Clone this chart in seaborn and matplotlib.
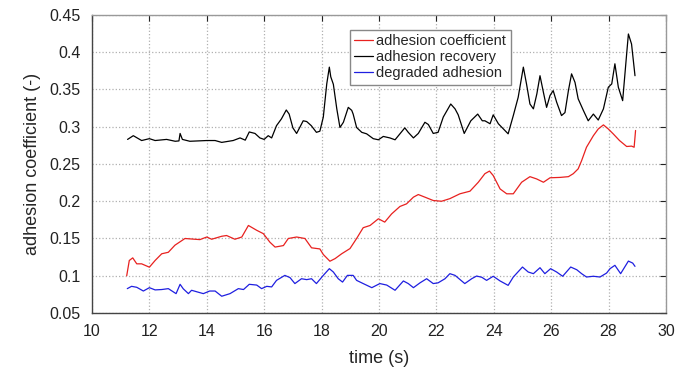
import seaborn as sns
import matplotlib.pyplot as plt
import pandas as pd

# adhesion recovery (black)
rec_t = [11.24, 11.44, 11.73, 12.0, 12.2, 12.6, 12.9, 13.03, 13.07, 13.15, 13.41, 14.0, 14.29,
         14.52, 14.92, 15.16, 15.34, 15.48, 15.68, 15.85, 16.0, 16.14, 16.26, 16.43, 16.6, 16.77,
         16.87, 17.0, 17.13, 17.36, 17.48, 17.64, 17.82, 17.94, 18.06, 18.18, 18.27, 18.32, 18.41,
         18.53, 18.64, 18.76, 18.93, 19.05, 19.1, 19.22, 19.4, 19.57, 19.8, 19.98, 20.15, 20.38,
         20.56, 20.73, 20.9, 21.02, 21.2, 21.37, 21.6, 21.72, 21.89, 22.06, 22.24, 22.5, 22.65,
         22.76, 22.97, 23.2, 23.44, 23.6, 23.69, 23.87, 23.98, 24.16, 24.5, 24.68, 24.85, 25.03,
         25.14, 25.26, 25.38, 25.5, 25.61, 25.73, 25.84, 25.96, 26.07, 26.19, 26.36, 26.48, 26.6,
         26.71, 26.83, 26.94, 27.12, 27.29, 27.47, 27.64, 27.82, 27.99, 28.11, 28.22, 28.34, 28.49,
         28.63, 28.69, 28.8, 28.92]
rec_v = [0.283, 0.288, 0.2815, 0.284, 0.2815, 0.283, 0.2805, 0.281, 0.291, 0.283, 0.2805, 0.2815,
         0.2815, 0.279, 0.2815, 0.285, 0.282, 0.293, 0.291, 0.285, 0.283, 0.288, 0.285, 0.3015,
         0.3105, 0.3225, 0.317, 0.2985, 0.291, 0.308, 0.307, 0.3015, 0.2925, 0.294, 0.313, 0.3575,
         0.38, 0.367, 0.357, 0.324, 0.299, 0.306, 0.326, 0.322, 0.317, 0.299, 0.2925, 0.2905, 0.284,
         0.2825, 0.287, 0.285, 0.2825, 0.2905, 0.2985, 0.2925, 0.285, 0.291, 0.306, 0.303, 0.291,
         0.2925, 0.313, 0.3305, 0.324, 0.316, 0.291, 0.308, 0.317, 0.308, 0.308, 0.304, 0.316, 0.304,
         0.2905, 0.315, 0.3395, 0.38, 0.3575, 0.3305, 0.324, 0.344, 0.3685, 0.346, 0.326, 0.342,
         0.3485, 0.333, 0.315, 0.319, 0.3485, 0.371, 0.3595, 0.3375, 0.322, 0.308, 0.317, 0.309,
         0.324, 0.353, 0.3575, 0.3845, 0.353, 0.335, 0.398, 0.4245, 0.411, 0.3685]

# adhesion coefficient (red)
coef_t = [11.21, 11.3, 11.42, 11.56, 11.73, 12.0, 12.2, 12.43, 12.66, 12.89, 13.24, 13.41, 13.76,
          14.0, 14.17, 14.52, 14.69, 14.98, 15.22, 15.45, 15.74, 15.97, 16.2, 16.38, 16.67, 16.84,
          17.13, 17.42, 17.65, 17.94, 18.06, 18.29, 18.47, 18.7, 18.99, 19.22, 19.45, 19.69, 19.98,
          20.2, 20.44, 20.73, 20.96, 21.2, 21.37, 21.6, 21.89, 22.18, 22.47, 22.82, 23.17, 23.46,
          23.69, 23.85, 23.98, 24.22, 24.45, 24.68, 24.97, 25.26, 25.49, 25.73, 25.96, 26.31, 26.6,
          26.77, 26.94, 27.06, 27.23, 27.47, 27.64, 27.82, 27.99, 28.16, 28.38, 28.63, 28.8, 28.89,
          28.94]
coef_v = [0.1, 0.1205, 0.124, 0.116, 0.116, 0.1115, 0.1205, 0.1295, 0.1315, 0.141, 0.15, 0.1495,
          0.1485, 0.152, 0.149, 0.153, 0.154, 0.149, 0.152, 0.1675, 0.161, 0.1565, 0.145, 0.1385,
          0.1405, 0.15, 0.152, 0.15, 0.1375, 0.136, 0.1285, 0.1195, 0.123, 0.1295, 0.1365, 0.15,
          0.1645, 0.1675, 0.1765, 0.172, 0.183, 0.193, 0.1965, 0.2055, 0.209, 0.2055, 0.201, 0.2,
          0.2035, 0.21, 0.2135, 0.2255, 0.237, 0.2405, 0.2345, 0.2165, 0.21, 0.21, 0.2255, 0.233,
          0.23, 0.2255, 0.2315, 0.232, 0.233, 0.237, 0.2435, 0.2545, 0.2725, 0.288, 0.297, 0.3025,
          0.297, 0.2905, 0.2815, 0.2735, 0.274, 0.2725, 0.295]

# degraded adhesion (blue)
deg_t = [11.23, 11.38, 11.56, 11.79, 12.0, 12.2, 12.43, 12.66, 12.93, 13.07, 13.18, 13.36, 13.47,
         13.65, 13.88, 14.1, 14.29, 14.52, 14.81, 15.1, 15.28, 15.48, 15.74, 15.91, 16.09, 16.26,
         16.43, 16.72, 16.9, 17.07, 17.3, 17.48, 17.65, 17.82, 18.06, 18.27, 18.41, 18.58, 18.73,
         18.9, 19.1, 19.22, 19.45, 19.75, 20.03, 20.27, 20.56, 20.85, 21.02, 21.2, 21.43, 21.66,
         21.89, 22.06, 22.3, 22.47, 22.65, 22.99, 23.23, 23.4, 23.58, 23.75, 23.98, 24.22, 24.5,
         24.68, 25.0, 25.2, 25.38, 25.61, 25.78, 25.98, 26.19, 26.4, 26.68, 26.89, 27.06, 27.23,
         27.47, 27.7, 27.93, 28.05, 28.22, 28.42, 28.69, 28.84, 28.92]
deg_v = [0.0827, 0.0858, 0.0845, 0.0795, 0.084, 0.081, 0.0815, 0.0827, 0.076, 0.0885, 0.0825,
         0.076, 0.0805, 0.0785, 0.076, 0.0795, 0.0795, 0.0725, 0.076, 0.0827, 0.0815, 0.0885,
         0.0875, 0.0827, 0.0858, 0.085, 0.0938, 0.1005, 0.0975, 0.0895, 0.096, 0.0948, 0.096,
         0.0895, 0.1005, 0.1095, 0.105, 0.096, 0.0915, 0.1005, 0.1005, 0.0938, 0.0895, 0.084,
         0.0895, 0.0875, 0.0805, 0.093, 0.0895, 0.084, 0.0905, 0.096, 0.0895, 0.0905, 0.096,
         0.1028, 0.1005, 0.0895, 0.096, 0.0996, 0.098, 0.0938, 0.0993, 0.093, 0.0871, 0.0983,
         0.1117, 0.105, 0.1028, 0.1108, 0.1028, 0.1095, 0.105, 0.0993, 0.1117, 0.1081, 0.1028,
         0.0983, 0.0993, 0.0983, 0.1036, 0.1095, 0.114, 0.1028, 0.1197, 0.117, 0.1126]

x_ticks = [10, 12, 14, 16, 18, 20, 22, 24, 26, 28, 30]
y_ticks = [0.05, 0.1, 0.15, 0.2, 0.25, 0.3, 0.35, 0.4, 0.45]
y_labels = ["0.05", "0.1", "0.15", "0.2", "0.25", "0.3", "0.35", "0.4", "0.45"]


def main():
    sns.set_style("whitegrid")
    plt.rcParams['font.family'] = ['Liberation Sans', 'DejaVu Sans']

    coef = pd.DataFrame({'t': coef_t, 'v': coef_v})
    rec = pd.DataFrame({'t': rec_t, 'v': rec_v})
    deg = pd.DataFrame({'t': deg_t, 'v': deg_v})

    fig = plt.figure(figsize=(6.89, 3.72), dpi=100)
    ax = fig.add_axes([0.1335, 0.1586, 0.8331, 0.8011])

    sns.lineplot(data=coef, x='t', y='v', ax=ax, color='#e8211f', lw=0.9,
                 sort=False, estimator=None, label='adhesion coefficient')
    sns.lineplot(data=rec, x='t', y='v', ax=ax, color='black', lw=0.9,
                 sort=False, estimator=None, label='adhesion recovery')
    sns.lineplot(data=deg, x='t', y='v', ax=ax, color='#1f1fe0', lw=0.9,
                 sort=False, estimator=None, label='degraded adhesion')

    ax.set_xlim(10, 30)
    ax.set_ylim(0.05, 0.45)
    ax.set_xticks(x_ticks)
    ax.set_yticks(y_ticks)
    ax.set_yticklabels(y_labels)
    ax.grid(True, color='#b0b0b0', linestyle=':', linewidth=0.9)
    ax.tick_params(direction='in', length=4, labelsize=11.5, colors='#222222',
                   top=True, right=True, pad=8)
    for side in ['left', 'bottom']:
        ax.spines[side].set_color('#444444')
    for side in ['top', 'right']:
        ax.spines[side].set_color('#999999')
    for s in ax.spines.values():
        s.set_linewidth(1.0)

    ax.set_xlabel('time (s)', fontsize=13, labelpad=8)
    ax.set_ylabel('adhesion coefficient (-)', fontsize=13, labelpad=6)

    leg = ax.legend(loc='upper left', bbox_to_anchor=(0.437, 0.975), fontsize=10.5,
                    handlelength=1.3, handletextpad=0.2, borderpad=0.3,
                    labelspacing=0.15, fancybox=False, framealpha=1)
    leg.get_frame().set_edgecolor('#888888')
    leg.get_frame().set_linewidth(1.0)

    fig.savefig('out.png', dpi=100)


if __name__ == '__main__':
    main()
